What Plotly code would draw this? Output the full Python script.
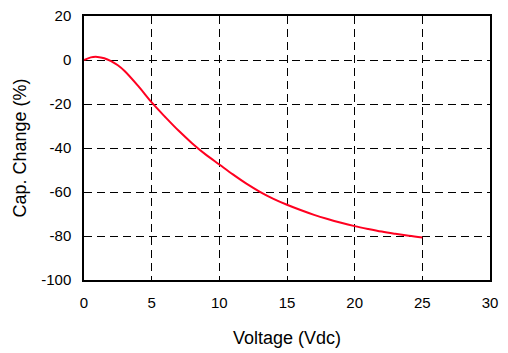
import plotly.graph_objects as go

voltage = [0, 0.5, 1, 1.5, 2, 2.5, 3, 4, 5, 6, 7, 8, 9, 10, 11, 12, 13, 14,
           15, 16, 17, 18, 19, 20, 21, 22, 23, 24, 25]
cap_change = [0, 1.2, 1.4, 0.8, -0.5, -2.4, -5.0, -11.8, -19.3, -25.9, -32.2,
              -37.9, -43.0, -47.5, -52.0, -56.2, -59.9, -63.1, -65.8, -68.2,
              -70.4, -72.3, -74.0, -75.5, -76.8, -78.0, -79.0, -79.9, -80.7]

x_ticks = [0, 5, 10, 15, 20, 25, 30]
y_ticks = [20, 0, -20, -40, -60, -80, -100]
y_tick_text = ["20", "0", "-20", "-40", "-60", "-80", "-100"]

fig = go.Figure(go.Scatter(x=voltage, y=cap_change, mode="lines",
                           line=dict(color="#ff0020", width=2, shape="spline",
                                     smoothing=1.0),
                           showlegend=False))

font = dict(family="Liberation Sans, Arial, sans-serif", size=15, color="#000")
title_font = dict(family="Liberation Sans, Arial, sans-serif", size=18, color="#000")
axis_common = dict(showline=True, linecolor="#000", linewidth=1.5, mirror=True,
                   showgrid=True, gridcolor="#000", gridwidth=1, griddash="8px,5px",
                   zeroline=False, ticks="", tickfont=font, automargin=False)

fig.update_xaxes(range=[0, 30], tickvals=x_ticks, ticklabelstandoff=8,
                 title=dict(text="Voltage (Vdc)", font=title_font, standoff=22), **axis_common)
fig.update_yaxes(range=[-100, 20], tickvals=y_ticks, ticktext=y_tick_text,
                 ticklabelstandoff=8,
                 title=dict(text="Cap. Change (%)", font=title_font, standoff=10), **axis_common)

fig.update_layout(width=508, height=353, margin=dict(l=84, r=18, t=16, b=73),
                  plot_bgcolor="#fff", paper_bgcolor="#fff", font=font)

fig.write_html("out.html")
